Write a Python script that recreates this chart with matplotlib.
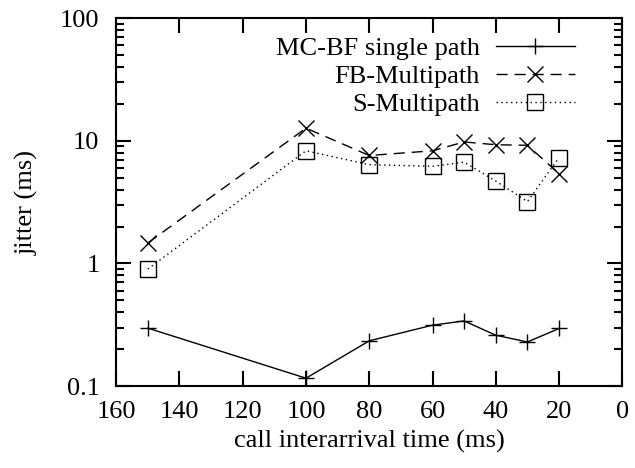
import matplotlib
matplotlib.use("Agg")
import matplotlib.pyplot as plt
from matplotlib.ticker import FixedLocator, LogLocator, NullFormatter

plt.rcParams['font.family'] = ['Liberation Serif', 'DejaVu Serif']

interarrival = [150, 100, 80, 60, 50, 40, 30, 20]
mcbf_single = [0.297, 0.116, 0.234, 0.314, 0.34, 0.26, 0.229, 0.295]
fb_multipath = [1.47, 12.7, 7.6, 8.3, 9.8, 9.3, 9.2, 5.4]
s_multipath = [0.9, 8.3, 6.4, 6.2, 6.7, 4.7, 3.2, 7.3]

fig = plt.figure(figsize=(6.35, 4.68), dpi=100, facecolor='white')
ax = fig.add_axes([0.183, 0.175, 0.797, 0.786])

ax.plot(interarrival, mcbf_single, color='black', linestyle='-', linewidth=1.0,
        marker='+', markersize=12, markeredgewidth=1.0, label='MC-BF single path')
ax.plot(interarrival, fb_multipath, color='black', linestyle=(0, (8, 5)), linewidth=1.0,
        marker='x', markersize=12, markeredgewidth=1.0, label='FB-Multipath')
ax.plot(interarrival, s_multipath, color='black', linestyle=(0, (1, 2.5)), linewidth=1.0,
        marker='s', markersize=12, markeredgewidth=1.0, markerfacecolor='none', label='S-Multipath')

ax.set_yscale('log')
ax.set_xlim(160, 0)
ax.set_ylim(0.1, 100)
ax.xaxis.set_major_locator(FixedLocator([160, 140, 120, 100, 80, 60, 40, 20, 0]))
ax.yaxis.set_major_locator(FixedLocator([0.1, 1, 10, 100]))
ax.yaxis.set_minor_locator(LogLocator(base=10, subs=range(2, 10)))
ax.yaxis.set_minor_formatter(NullFormatter())
ax.set_yticklabels(['0.1', '1', '10', '100'])

ax.tick_params(which='both', direction='in', top=True, right=True, labelsize=19, width=1.5)
ax.tick_params(axis='y', pad=12)
ax.tick_params(axis='x', pad=11)
ax.tick_params(which='major', length=11)
ax.tick_params(which='minor', length=6)
for s in ax.spines.values():
    s.set_linewidth(1.5)

ax.set_xlabel('call interarrival time (ms)', fontsize=19, labelpad=5)
ax.set_ylabel('jitter (ms)', fontsize=19, labelpad=15)

ax.legend(loc='upper right', bbox_to_anchor=(0.927, 0.978), borderaxespad=0,
          frameon=False, markerfirst=False, fontsize=19,
          handlelength=3, handletextpad=0.6, labelspacing=0.16)

fig.savefig('out.png', dpi=100)
